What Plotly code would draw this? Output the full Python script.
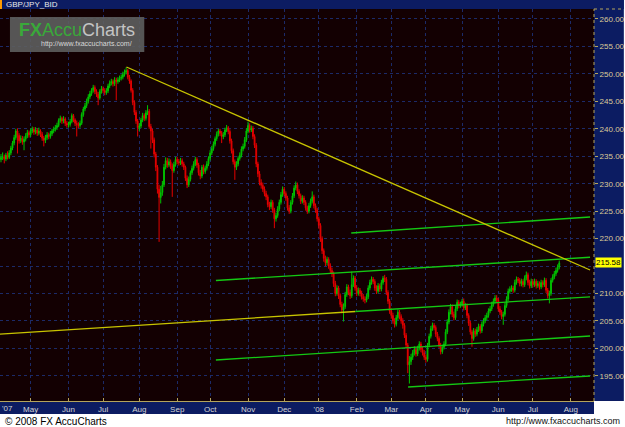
import plotly.graph_objects as go
import pandas as pd

# ---- daily GBP/JPY bid candles, 2 Apr 2007 .. 23 Jul 2008 (one line per month) ----
OPEN = [
    234.2, 234.6, 235.0, 234.4, 234.8, 234.9, 234.5, 235.2, 234.8, 235.6, 236.5, 237.4, 238.4, 239.6, 238.8, 237.8, 238.3, 237.6, 238.1, 238.7, 239.3,
    238.9, 239.6, 239.9, 239.4, 239.8, 239.2, 239.6, 239.0, 238.3, 237.9, 238.4, 238.9, 238.6, 239.1, 239.6, 239.9, 240.2, 240.6, 241.5, 241.9, 241.4, 241.8, 241.0,
    240.7, 240.8, 241.3, 242.4, 241.6, 241.0, 240.8, 240.6, 241.0, 242.6, 243.6, 244.2, 245.0, 245.8, 246.4, 247.0, 247.5, 246.8, 246.3, 245.6, 246.8,
    247.3, 247.0, 246.6, 246.9, 247.8, 248.3, 248.6, 248.2, 248.9, 248.6, 248.9, 249.2, 249.4, 249.9, 250.3, 250.6, 249.4, 248.7, 247.0, 244.8, 243.0, 241.4,
    240.2, 240.5, 241.6, 242.4, 241.9, 242.9, 243.2, 240.4, 239.6, 238.0, 235.4, 233.0, 229.0, 227.5, 228.4, 229.8, 233.0, 234.2, 233.4, 234.0, 233.2, 232.4, 233.5,
    234.4, 234.0, 233.8, 234.2, 233.6, 233.0, 231.0, 229.8, 230.8, 232.0, 232.8, 233.6, 234.4, 233.4, 232.0, 231.4, 233.0, 232.2, 232.8, 233.6,
    234.6, 235.6, 236.4, 237.2, 238.2, 239.0, 239.6, 239.2, 238.6, 238.9, 239.8, 240.2, 239.5, 237.8, 236.0, 234.0, 233.0, 233.6, 234.6, 235.2, 236.3, 236.8, 238.0,
    239.6, 240.6, 239.8, 240.1, 238.6, 237.0, 233.6, 231.8, 230.2, 229.7, 229.0, 228.2, 227.6, 226.2, 225.8, 226.6, 225.2, 223.6, 224.2, 225.4, 226.6, 228.0,
    229.0, 228.2, 227.4, 225.6, 225.0, 226.6, 227.8, 229.2, 229.8, 228.6, 227.8, 226.8, 227.4, 226.6, 225.6, 225.0, 226.0, 226.8, 227.6, 226.0, 225.2,
    223.6, 222.4, 220.0, 217.8, 216.4, 215.6, 216.2, 215.0, 214.2, 213.6, 211.8, 210.0, 211.0, 209.6, 208.0, 207.0, 207.6, 209.8, 211.2, 210.2, 209.6, 211.6, 212.8,
    211.0, 210.0, 210.6, 210.0, 209.4, 209.0, 208.8, 209.4, 211.0, 212.0, 212.6, 212.2, 211.0, 210.4, 211.4, 210.8, 212.0, 212.8, 212.6, 210.2, 208.6,
    206.8, 206.0, 205.0, 204.4, 205.6, 206.6, 205.8, 205.0, 204.2, 202.4, 200.6, 197.0, 197.6, 198.4, 199.2, 199.8, 199.0, 200.0, 200.8, 199.8, 199.2,
    198.4, 198.0, 200.6, 202.2, 203.6, 204.2, 203.8, 202.6, 201.8, 200.6, 199.4, 200.2, 200.8, 203.0, 204.8, 206.6, 207.6, 206.2, 205.6, 207.2, 208.4, 207.8,
    208.0, 208.6, 207.4, 207.8, 206.0, 204.6, 203.0, 201.8, 203.2, 202.6, 203.4, 204.0, 203.2, 204.4, 205.0, 205.6, 206.0, 206.8, 207.2, 208.0, 208.6, 209.2,
    208.8, 207.2, 206.6, 205.8, 206.2, 207.8, 209.0, 210.4, 210.8, 211.0, 210.6, 212.0, 212.6, 212.4, 211.8, 212.2, 211.6, 212.8, 213.4, 212.0, 211.4,
    212.2, 211.6, 212.2, 211.4, 211.8, 211.2, 212.0, 211.6, 212.4, 210.6, 209.6, 210.0, 212.4, 213.0, 213.6, 214.2, 214.8,
]
HIGH = [
    235.0, 235.7, 235.3, 235.4, 235.7, 235.3, 235.6, 235.9, 236.1, 236.9, 237.8, 238.9, 240.0, 240.1, 239.2, 238.8, 238.7, 238.6, 239.2, 239.8, 239.7,
    240.1, 240.4, 240.3, 240.3, 240.1, 240.2, 239.9, 239.4, 238.7, 238.9, 239.4, 239.3, 239.6, 240.0, 240.4, 240.7, 241.1, 241.9, 242.4, 242.2, 242.3, 242.1, 241.4,
    241.3, 241.8, 242.8, 242.7, 241.9, 241.5, 241.2, 241.5, 243.0, 244.0, 244.7, 245.5, 246.3, 246.9, 247.4, 248.0, 247.9, 247.2, 246.7, 247.2, 247.8,
    247.7, 247.4, 247.4, 248.2, 248.8, 249.1, 249.0, 249.4, 249.3, 249.4, 249.7, 249.9, 250.4, 250.8, 251.2, 250.9, 249.8, 249.0, 247.4, 245.2, 243.4, 241.8,
    241.0, 242.0, 242.9, 242.8, 243.4, 244.3, 243.6, 240.9, 240.0, 238.4, 235.8, 233.4, 229.8, 229.6, 230.5, 233.6, 234.8, 234.7, 234.6, 234.4, 233.7, 234.0, 234.9,
    234.9, 234.5, 234.7, 234.6, 234.0, 233.3, 231.5, 231.3, 232.4, 233.3, 234.1, 234.9, 234.8, 233.8, 232.5, 233.4, 233.5, 233.3, 234.1, 235.0,
    236.1, 236.9, 237.7, 238.6, 239.5, 240.0, 240.0, 239.6, 239.4, 240.2, 240.7, 240.5, 239.9, 238.2, 236.4, 234.4, 234.1, 235.0, 235.7, 236.8, 237.3, 238.5, 240.1,
    241.3, 241.0, 240.6, 240.5, 239.0, 237.4, 234.0, 232.3, 230.8, 230.2, 229.5, 228.7, 228.0, 226.7, 227.1, 227.0, 225.6, 224.7, 225.9, 227.1, 228.5, 229.5,
    229.4, 228.6, 227.8, 226.1, 227.0, 228.3, 229.7, 230.4, 230.2, 229.0, 228.2, 227.9, 227.8, 227.0, 226.0, 226.5, 227.3, 228.6, 228.0, 226.4, 225.6,
    224.0, 222.8, 220.4, 218.2, 216.9, 216.7, 216.6, 215.5, 214.7, 214.0, 212.3, 211.5, 211.4, 210.0, 208.5, 208.2, 210.3, 211.7, 211.6, 210.7, 214.0, 213.3, 213.2,
    211.5, 211.1, 211.0, 210.5, 209.9, 209.5, 209.9, 211.5, 212.5, 213.1, 213.0, 212.6, 211.5, 211.9, 211.8, 212.5, 213.2, 213.4, 213.0, 210.6, 209.0,
    207.3, 206.5, 205.5, 206.1, 207.1, 207.0, 206.2, 205.5, 204.6, 202.8, 201.0, 198.6, 199.0, 199.7, 200.4, 200.3, 200.5, 201.3, 201.2, 200.3, 199.7,
    198.9, 201.0, 202.7, 204.1, 204.7, 204.6, 204.2, 203.0, 202.2, 201.0, 200.7, 201.3, 203.5, 205.3, 207.1, 208.1, 208.0, 206.7, 207.7, 208.9, 208.8, 208.5,
    209.0, 209.1, 208.3, 208.2, 206.4, 205.0, 203.4, 203.7, 203.6, 203.9, 204.5, 204.4, 204.9, 205.5, 206.1, 206.5, 207.3, 207.7, 208.5, 209.1, 209.7, 209.7,
    209.2, 207.7, 207.0, 206.7, 208.3, 209.5, 210.9, 211.3, 211.5, 211.4, 212.5, 213.1, 213.0, 212.8, 212.7, 212.6, 213.3, 214.0, 213.8, 212.5, 212.7,
    212.6, 212.7, 212.6, 212.3, 212.2, 212.5, 212.4, 212.9, 212.8, 211.0, 210.5, 212.8, 213.5, 214.1, 214.7, 215.3, 216.0,
]
LOW = [
    233.8, 234.3, 233.8, 233.9, 234.3, 233.7, 234.1, 234.4, 234.5, 235.2, 236.1, 237.0, 238.0, 235.5, 237.3, 237.4, 237.1, 236.1, 237.7, 238.3, 238.4,
    238.5, 239.2, 238.9, 239.0, 238.7, 238.8, 238.5, 237.8, 236.8, 237.4, 238.0, 238.1, 238.2, 238.7, 239.2, 239.5, 239.8, 240.3, 241.1, 240.9, 241.0, 240.5, 240.2,
    240.2, 240.4, 241.0, 241.2, 240.5, 238.6, 240.1, 240.2, 240.7, 242.2, 243.2, 243.8, 244.6, 245.4, 246.0, 246.6, 246.3, 245.8, 244.3, 245.3, 246.4,
    246.5, 246.1, 246.2, 246.5, 247.4, 247.9, 247.7, 247.8, 245.2, 248.2, 248.5, 248.8, 249.0, 249.5, 249.9, 249.0, 248.2, 246.6, 244.3, 242.5, 240.9, 238.6,
    239.6, 240.1, 241.2, 241.4, 241.5, 242.5, 240.0, 236.4, 237.4, 234.8, 232.3, 228.2, 219.4, 226.4, 227.8, 229.4, 232.6, 232.9, 233.0, 232.7, 227.6, 232.0, 233.1,
    233.5, 233.3, 233.4, 233.1, 232.5, 230.5, 229.2, 229.4, 230.4, 231.6, 232.4, 233.2, 232.9, 231.5, 230.8, 231.0, 231.7, 231.8, 232.4, 233.2,
    234.2, 235.2, 236.0, 236.8, 237.8, 238.6, 238.7, 237.4, 238.1, 238.5, 239.4, 239.0, 237.3, 235.5, 233.5, 230.7, 232.5, 233.2, 234.2, 234.8, 235.9, 236.4, 237.6,
    239.2, 239.3, 239.4, 238.1, 236.5, 233.0, 231.2, 229.7, 229.1, 228.5, 227.7, 227.0, 225.7, 225.2, 225.4, 224.7, 221.9, 223.1, 223.8, 225.0, 226.2, 227.6,
    227.7, 226.9, 225.1, 224.5, 224.6, 226.2, 227.4, 228.8, 228.1, 227.3, 226.3, 226.4, 226.1, 225.1, 224.5, 224.6, 225.6, 226.4, 225.5, 224.7, 223.1,
    221.8, 219.4, 217.2, 215.8, 215.0, 215.1, 214.5, 213.7, 213.0, 211.2, 209.5, 209.6, 209.0, 207.5, 206.4, 204.9, 207.2, 209.4, 209.7, 209.0, 209.2, 211.2, 210.5,
    209.5, 209.6, 209.5, 208.9, 208.5, 208.2, 208.4, 209.0, 210.6, 211.6, 211.7, 210.5, 209.9, 210.0, 210.3, 210.4, 211.6, 212.1, 209.7, 208.1, 206.3,
    205.4, 204.5, 203.8, 204.0, 205.2, 205.3, 204.5, 203.6, 201.9, 200.0, 195.5, 193.6, 197.0, 197.9, 198.7, 198.5, 198.6, 199.6, 199.3, 198.7, 197.9,
    197.4, 197.6, 200.2, 201.8, 203.2, 203.3, 202.1, 201.3, 200.1, 198.9, 199.0, 199.8, 200.4, 202.6, 204.4, 206.2, 205.7, 205.1, 205.2, 206.8, 207.3, 207.4,
    207.6, 206.9, 207.0, 205.5, 204.1, 202.5, 200.3, 201.4, 202.1, 202.2, 203.0, 202.7, 202.8, 204.0, 204.6, 205.1, 205.6, 206.4, 206.8, 207.6, 208.2, 208.3,
    206.7, 206.1, 205.3, 204.3, 205.8, 207.4, 208.6, 210.0, 210.3, 210.1, 210.2, 211.6, 211.9, 211.3, 211.3, 211.1, 211.2, 212.4, 211.5, 210.9, 211.0,
    211.1, 211.2, 210.9, 211.0, 210.7, 210.8, 211.1, 211.2, 210.1, 209.1, 208.2, 209.6, 212.0, 212.6, 213.2, 213.8, 214.4,
]
CLOSE = [
    234.6, 235.0, 234.4, 234.8, 234.9, 234.5, 235.2, 234.8, 235.6, 236.5, 237.4, 238.4, 239.6, 238.8, 237.8, 238.3, 237.6, 238.1, 238.7, 239.3, 238.9,
    239.6, 239.9, 239.4, 239.8, 239.2, 239.6, 239.0, 238.3, 237.9, 238.4, 238.9, 238.6, 239.1, 239.6, 239.9, 240.2, 240.6, 241.5, 241.9, 241.4, 241.8, 241.0, 240.7,
    240.8, 241.3, 242.4, 241.6, 241.0, 240.8, 240.6, 241.0, 242.6, 243.6, 244.2, 245.0, 245.8, 246.4, 247.0, 247.5, 246.8, 246.3, 245.6, 246.8, 247.3,
    247.0, 246.6, 246.9, 247.8, 248.3, 248.6, 248.2, 248.9, 248.6, 248.9, 249.2, 249.4, 249.9, 250.3, 250.6, 249.4, 248.7, 247.0, 244.8, 243.0, 241.4, 240.2,
    240.5, 241.6, 242.4, 241.9, 242.9, 243.2, 240.4, 239.6, 238.0, 235.4, 233.0, 229.0, 227.5, 228.4, 229.8, 233.0, 234.2, 233.4, 234.0, 233.2, 232.4, 233.5, 234.4,
    234.0, 233.8, 234.2, 233.6, 233.0, 231.0, 229.8, 230.8, 232.0, 232.8, 233.6, 234.4, 233.4, 232.0, 231.4, 233.0, 232.2, 232.8, 233.6, 234.6,
    235.6, 236.4, 237.2, 238.2, 239.0, 239.6, 239.2, 238.6, 238.9, 239.8, 240.2, 239.5, 237.8, 236.0, 234.0, 233.0, 233.6, 234.6, 235.2, 236.3, 236.8, 238.0, 239.6,
    240.6, 239.8, 240.1, 238.6, 237.0, 233.6, 231.8, 230.2, 229.7, 229.0, 228.2, 227.6, 226.2, 225.8, 226.6, 225.2, 223.6, 224.2, 225.4, 226.6, 228.0, 229.0,
    228.2, 227.4, 225.6, 225.0, 226.6, 227.8, 229.2, 229.8, 228.6, 227.8, 226.8, 227.4, 226.6, 225.6, 225.0, 226.0, 226.8, 227.6, 226.0, 225.2, 223.6,
    222.4, 220.0, 217.8, 216.4, 215.6, 216.2, 215.0, 214.2, 213.6, 211.8, 210.0, 211.0, 209.6, 208.0, 207.0, 207.6, 209.8, 211.2, 210.2, 209.6, 211.6, 212.8, 211.0,
    210.0, 210.6, 210.0, 209.4, 209.0, 208.8, 209.4, 211.0, 212.0, 212.6, 212.2, 211.0, 210.4, 211.4, 210.8, 212.0, 212.8, 212.6, 210.2, 208.6, 206.8,
    206.0, 205.0, 204.4, 205.6, 206.6, 205.8, 205.0, 204.2, 202.4, 200.6, 197.0, 197.6, 198.4, 199.2, 199.8, 199.0, 200.0, 200.8, 199.8, 199.2, 198.4,
    198.0, 200.6, 202.2, 203.6, 204.2, 203.8, 202.6, 201.8, 200.6, 199.4, 200.2, 200.8, 203.0, 204.8, 206.6, 207.6, 206.2, 205.6, 207.2, 208.4, 207.8, 208.0,
    208.6, 207.4, 207.8, 206.0, 204.6, 203.0, 201.8, 203.2, 202.6, 203.4, 204.0, 203.2, 204.4, 205.0, 205.6, 206.0, 206.8, 207.2, 208.0, 208.6, 209.2, 208.8,
    207.2, 206.6, 205.8, 206.2, 207.8, 209.0, 210.4, 210.8, 211.0, 210.6, 212.0, 212.6, 212.4, 211.8, 212.2, 211.6, 212.8, 213.4, 212.0, 211.4, 212.2,
    211.6, 212.2, 211.4, 211.8, 211.2, 212.0, 211.6, 212.4, 210.6, 209.6, 210.0, 212.4, 213.0, 213.6, 214.2, 214.8, 215.58,
]
FIRST_DAY = "2007-04-02"
LAST_DAY = "2008-07-23"
AXIS_END = "2008-08-29"
LAST_PRICE_LABEL = "215.58"
Y_TICKS = [195, 200, 205, 210, 215, 220, 225, 230, 235, 240, 245, 250, 255, 260]
Y_HIDDEN = [215]   # label covered by the last-price box in the original

# ---- trendlines, anchored as (trading-day index, price) ----
DOWN_X, DOWN_Y = [79.2, 360.7], [251.26, 214.28]          # yellow resistance from Jul-07 top
BASE_X, BASE_Y = [0.0, 218.1], [202.57, 206.72]            # yellow long support
CH_TOP_X, CH_TOP_Y = [215.7, 360.7], [221.02, 223.93]      # green channel lines
CH_UP_X, CH_UP_Y = [133.5, 360.7], [212.37, 216.60]
CH_MID_X, CH_MID_Y = [218.1, 360.7], [206.72, 209.40]
CH_LOW_X, CH_LOW_Y = [133.5, 360.7], [197.89, 202.26]
CH_BOT_X, CH_BOT_Y = [250.2, 360.7], [192.97, 194.97]

DATES = pd.bdate_range(FIRST_DAY, LAST_DAY)
n = len(DATES)
assert n == len(OPEN) == len(HIGH) == len(LOW) == len(CLOSE), (n, len(OPEN), len(HIGH), len(LOW), len(CLOSE))
IDX = list(range(n))

# month ticks on the trading-day axis
axis_days = pd.bdate_range(FIRST_DAY, AXIS_END)
tickvals, ticktext = [], []
prev = None
for k, d in enumerate(axis_days):
    key = (d.year, d.month)
    if key != prev:
        prev = key
        if k == 0:
            continue
        tickvals.append(k)
        ticktext.append("'" + d.strftime("%y") if d.month == 1 else d.strftime("%b"))

NAVY = "#0c1c62"
KHAKI = "#b4a45c"
GRID = "#1c2a68"
FONT = "Liberation Sans"
YEL = "#c8c400"
GRN = "#14c814"

fig = go.Figure()
fig.add_trace(go.Candlestick(
    x=IDX, open=OPEN, high=HIGH, low=LOW, close=CLOSE,
    increasing=dict(line=dict(color="#00c400", width=1), fillcolor="#00c400"),
    decreasing=dict(line=dict(color="#e40000", width=1), fillcolor="#e40000"),
    whiskerwidth=0, hoverinfo="skip", showlegend=False,
))
for xs, ys, col in [
    (BASE_X, BASE_Y, YEL), (CH_TOP_X, CH_TOP_Y, GRN), (CH_UP_X, CH_UP_Y, GRN),
    (CH_MID_X, CH_MID_Y, GRN), (CH_LOW_X, CH_LOW_Y, GRN), (CH_BOT_X, CH_BOT_Y, GRN),
    (DOWN_X, DOWN_Y, YEL),
]:
    fig.add_trace(go.Scatter(x=xs, y=ys, mode="lines", line=dict(color=col, width=1.3),
                             hoverinfo="skip", showlegend=False))

PH = 392.0   # plot height in px (page y 9 .. 401)
PW = 597.0   # plot width in px


def py(page_y):
    """paper y for a page pixel row"""
    return (401.0 - page_y) / PH


shapes = [
    # right price panel
    dict(type="rect", xref="paper", yref="paper", x0=1, x1=1 + 30 / PW, y0=0, y1=py(-1),
         fillcolor=NAVY, line=dict(width=0), layer="below"),
    # header bar
    dict(type="rect", xref="paper", yref="paper", x0=0, x1=1 + 30 / PW, y0=1, y1=py(-1),
         fillcolor=NAVY, line=dict(width=0), layer="below"),
    dict(type="rect", xref="paper", yref="paper", x0=0, x1=2 / PW, y0=1, y1=py(0),
         fillcolor="#ff9a00", line=dict(width=0), layer="above"),
    # date band
    dict(type="rect", xref="paper", yref="paper", x0=0, x1=1, y0=py(414), y1=0,
         fillcolor=NAVY, line=dict(width=0), layer="below"),
    # dotted khaki borders of price panel
    dict(type="line", xref="paper", yref="paper", x0=1, x1=1, y0=0, y1=1,
         line=dict(color=KHAKI, width=1, dash="dot")),
    dict(type="line", xref="paper", yref="paper", x0=1, x1=1 + 30 / PW, y0=1, y1=1,
         line=dict(color=KHAKI, width=1, dash="dot")),
    # watermark box
    dict(type="rect", xref="paper", yref="paper", x0=10 / PW, x1=145 / PW,
         y0=py(52), y1=py(17),
         fillcolor="#5e5e5e", opacity=0.9, line=dict(width=0), layer="above"),
]

annotations = [
    dict(text="GBP/JPY_BID", xref="paper", yref="paper", x=4 / PW, y=py(4.5),
         xanchor="left", yanchor="middle", showarrow=False,
         font=dict(family=FONT, size=8, color="#e8e8e8")),
    dict(text="'07", xref="paper", yref="paper", x=0, y=py(408),
         xanchor="left", yanchor="middle", showarrow=False,
         font=dict(family=FONT, size=8, color="#d4d4d4")),
    dict(text="<b>FX</b>Accu<span style='color:#c4c4c4'>Charts</span>", xref="paper", yref="paper",
         x=77 / PW, y=py(30.5), xanchor="center", yanchor="middle",
         showarrow=False, font=dict(family=FONT, size=18, color="#3aa83a")),
    dict(text="http://www.fxaccucharts.com/", xref="paper", yref="paper",
         x=87 / PW, y=py(44.5), xanchor="center", yanchor="middle", showarrow=False,
         font=dict(family=FONT, size=7, color="#d8d8d8")),
    dict(text=LAST_PRICE_LABEL, xref="paper", yref="y", x=1, y=CLOSE[-1], xshift=1,
         xanchor="left", yanchor="middle", showarrow=False, bgcolor="#ffff00", borderpad=0,
         font=dict(family=FONT, size=8, color="#000000")),
    dict(text="© 2008 FX AccuCharts", xref="paper", yref="paper", x=3 / PW, y=py(421),
         xanchor="left", yanchor="middle", showarrow=False,
         font=dict(family=FONT, size=10, color="#000000")),
    dict(text="http://www.fxaccucharts.com", xref="paper", yref="paper", x=1 + 28 / PW, y=py(421),
         xanchor="right", yanchor="middle", showarrow=False,
         font=dict(family=FONT, size=9, color="#111111")),
]

fig.update_layout(
    width=625, height=427, autosize=False,
    margin=dict(l=0, r=28, t=9, b=26, pad=0),
    paper_bgcolor="#ffffff", plot_bgcolor="#130002",
    showlegend=False, shapes=shapes, annotations=annotations,
    xaxis=dict(
        range=[2.4, 363.1], tickmode="array", tickvals=tickvals, ticktext=ticktext,
        showgrid=True, gridcolor=GRID, griddash="dot", gridwidth=1, zeroline=False,
        ticks="inside", ticklen=3, tickcolor=KHAKI, showline=True, linecolor=KHAKI, linewidth=1,
        tickfont=dict(family=FONT, size=8, color="#d4d4d4"),
        rangeslider=dict(visible=False), fixedrange=True,
    ),
    yaxis=dict(
        side="right", range=[190.42, 261.82], tickmode="array", tickvals=Y_TICKS,
        ticktext=["" if v in Y_HIDDEN else f"{v:.2f}" for v in Y_TICKS],
        showgrid=True, gridcolor=GRID, griddash="dot", gridwidth=1, zeroline=False,
        ticks="outside", ticklen=3, tickcolor=KHAKI, showline=False,
        tickfont=dict(family=FONT, size=8, color="#dccb98"), fixedrange=True,
    ),
)

fig.write_html("out.html")
